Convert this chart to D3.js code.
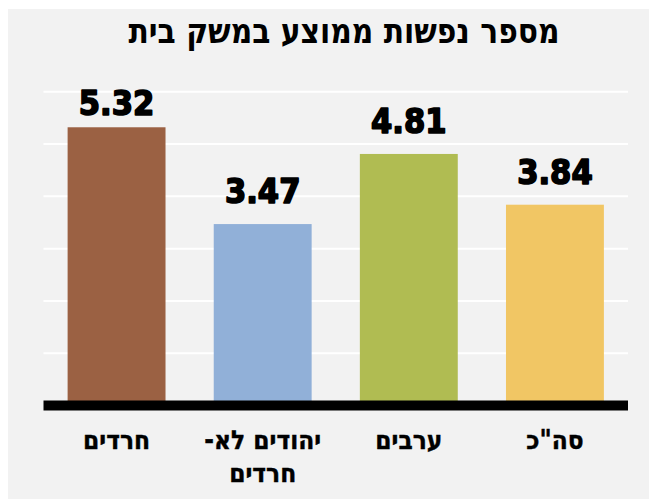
<!DOCTYPE html>
<html>
<head>
<meta charset="utf-8">
<script src="https://cdn.jsdelivr.net/npm/d3@7/dist/d3.min.js"></script>
<style>
  html, body { margin: 0; padding: 0; background: #ffffff; }
  svg { display: block; }
</style>
</head>
<body>
<script>
const title = "מספר נפשות ממוצע במשק בית";
const categories = ["חרדים", "יהודים לא-|חרדים", "ערבים", "סה\"כ"];
const values = [5.32, 3.47, 4.81, 3.84];
const colors = ["#9B6143", "#91B0D8", "#B0BC52", "#F1C664"];
const gridTicks = [1, 2, 3, 4, 5, 6];

const W = 649, H = 499;
const svg = d3.select("body").append("svg").attr("width", W).attr("height", H);

svg.append("rect").attr("x", 8).attr("y", 9).attr("width", W - 8).attr("height", H - 9)
  .attr("fill", "#F2F2F2");

const x = d3.scaleBand().domain(categories).range([43.5, 628]).paddingInner(0.33).paddingOuter(0.165);
const y = d3.scaleLinear().domain([0, 6]).range([405.6, 91.7]);

svg.append("g").selectAll("line").data(gridTicks).join("line")
  .attr("x1", 43.5).attr("x2", 628)
  .attr("y1", d => y(d)).attr("y2", d => y(d))
  .attr("stroke", "#ffffff").attr("stroke-width", 2);

svg.append("g").selectAll("rect").data(values).join("rect")
  .attr("x", (d, i) => x(categories[i]))
  .attr("width", x.bandwidth())
  .attr("y", d => y(d))
  .attr("height", d => y(0) - y(d))
  .attr("fill", (d, i) => colors[i]);

svg.append("line").attr("x1", 43.5).attr("x2", 628)
  .attr("y1", y(0)).attr("y2", y(0))
  .attr("stroke", "#000").attr("stroke-width", 10);

const F = "'DejaVu Sans Condensed', 'DejaVu Sans', sans-serif";

svg.append("g").selectAll("text").data(values).join("text")
  .attr("x", (d, i) => x(categories[i]) + x.bandwidth() / 2)
  .attr("y", d => Math.max(y(d) - 21, y(6) + 23.4))
  .attr("text-anchor", "middle")
  .attr("font-family", F)
  .attr("font-weight", "bold")
  .attr("font-size", 34)
  .attr("fill", "#000").attr("stroke", "#000").attr("stroke-width", 1.6)
  .attr("stroke-linejoin", "round")
  .text(d => d.toFixed(2));

const catG = svg.append("g");
categories.forEach((c, i) => {
  const lines = c.split("|");
  const t = catG.append("text")
    .attr("x", x(c) + x.bandwidth() / 2)
    .attr("y", 449)
    .attr("text-anchor", "middle")
    .attr("direction", "rtl")
    .attr("font-family", F)
    .attr("font-weight", "bold")
    .attr("font-size", 26)
    .attr("fill", "#000").attr("stroke", "#000").attr("stroke-width", 0.4);
  lines.forEach((l, j) => {
    t.append("tspan").attr("x", x(c) + x.bandwidth() / 2).attr("dy", j === 0 ? 0 : 33.4).text(l);
  });
});

svg.append("text")
  .attr("x", 344).attr("y", 43)
  .attr("text-anchor", "middle")
  .attr("direction", "rtl")
  .attr("font-family", F)
  .attr("font-weight", "bold")
  .attr("font-size", 35)
  .attr("textLength", 431)
  .attr("lengthAdjust", "spacingAndGlyphs")
  .attr("fill", "#000")
  .text(title);
</script>
</body>
</html>
